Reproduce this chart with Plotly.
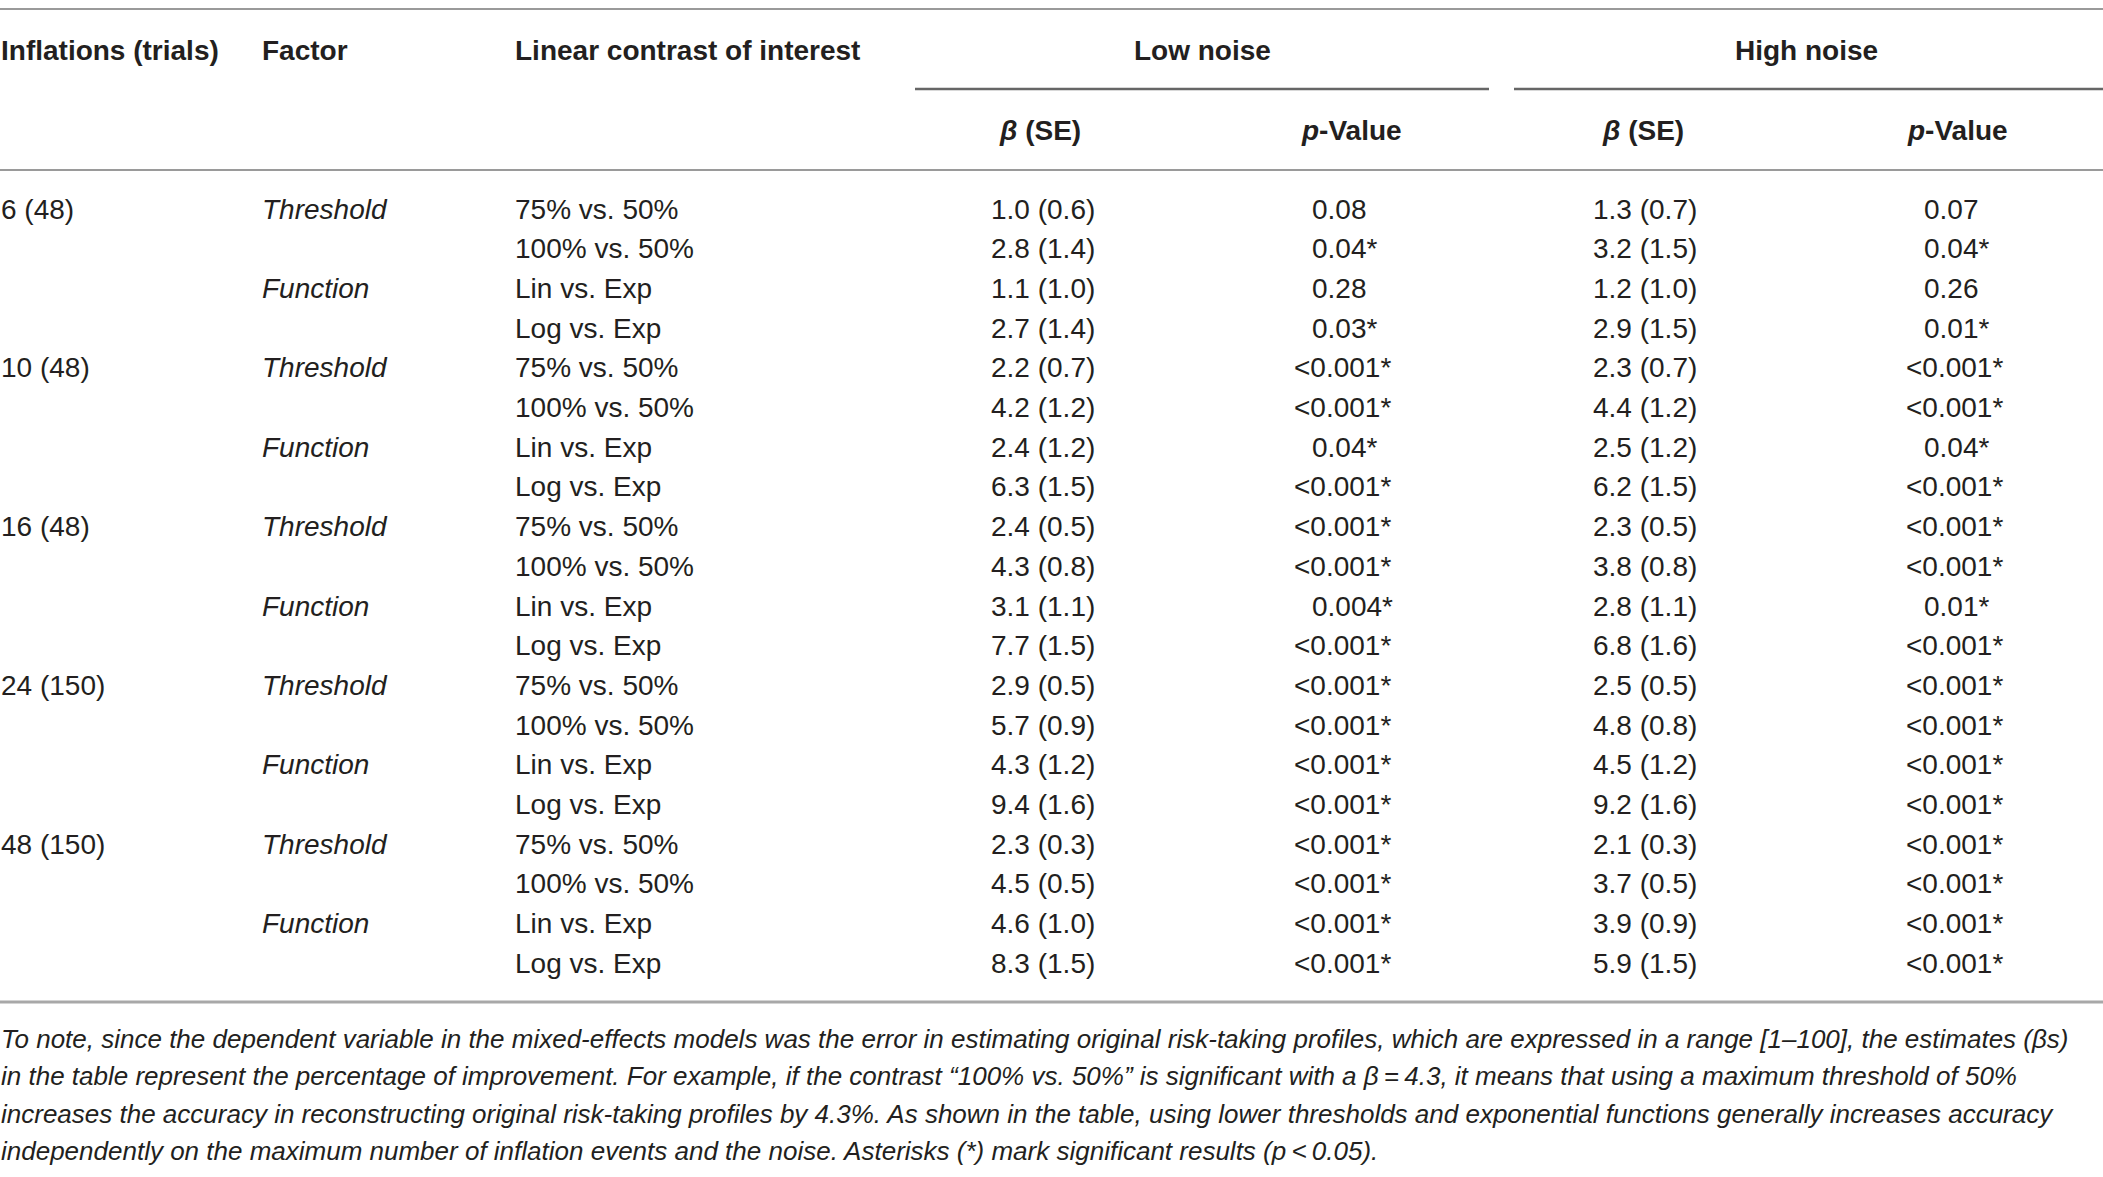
"""Mixed-effects contrasts table: low vs high noise, redrawn with plotly annotations"""
import plotly.graph_objects as go

# table content
inflations = ["6 (48)", "", "", "", "10 (48)", "", "", "", "16 (48)", "", "", "",
              "24 (150)", "", "", "", "48 (150)", "", "", ""]
factors = ["Threshold", "", "Function", ""] * 5
contrasts = ["75% vs. 50%", "100% vs. 50%", "Lin vs. Exp", "Log vs. Exp"] * 5

low_beta = ["1.0 (0.6)", "2.8 (1.4)", "1.1 (1.0)", "2.7 (1.4)",
            "2.2 (0.7)", "4.2 (1.2)", "2.4 (1.2)", "6.3 (1.5)",
            "2.4 (0.5)", "4.3 (0.8)", "3.1 (1.1)", "7.7 (1.5)",
            "2.9 (0.5)", "5.7 (0.9)", "4.3 (1.2)", "9.4 (1.6)",
            "2.3 (0.3)", "4.5 (0.5)", "4.6 (1.0)", "8.3 (1.5)"]
low_p = ["0.08", "0.04*", "0.28", "0.03*",
         "<0.001*", "<0.001*", "0.04*", "<0.001*",
         "<0.001*", "<0.001*", "0.004*", "<0.001*",
         "<0.001*", "<0.001*", "<0.001*", "<0.001*",
         "<0.001*", "<0.001*", "<0.001*", "<0.001*"]
high_beta = ["1.3 (0.7)", "3.2 (1.5)", "1.2 (1.0)", "2.9 (1.5)",
             "2.3 (0.7)", "4.4 (1.2)", "2.5 (1.2)", "6.2 (1.5)",
             "2.3 (0.5)", "3.8 (0.8)", "2.8 (1.1)", "6.8 (1.6)",
             "2.5 (0.5)", "4.8 (0.8)", "4.5 (1.2)", "9.2 (1.6)",
             "2.1 (0.3)", "3.7 (0.5)", "3.9 (0.9)", "5.9 (1.5)"]
high_p = ["0.07", "0.04*", "0.26", "0.01*",
          "<0.001*", "<0.001*", "0.04*", "<0.001*",
          "<0.001*", "<0.001*", "0.01*", "<0.001*",
          "<0.001*", "<0.001*", "<0.001*", "<0.001*",
          "<0.001*", "<0.001*", "<0.001*", "<0.001*"]

footnote_lines = [
    "To note, since the dependent variable in the mixed-effects models was the error in estimating "
    "original risk-taking profiles, which are expressed in a range [1\u2013100], the estimates (\u03b2s)",
    "in the table represent the percentage of improvement. For example, if the contrast \u201c100% vs. 50%\u201d "
    "is significant with a \u03b2\u2009=\u20094.3, it means that using a maximum threshold of 50%",
    "increases the accuracy in reconstructing original risk-taking profiles by 4.3%. As shown in the table, "
    "using lower thresholds and exponential functions generally increases accuracy",
    "independently on the maximum number of inflation events and the noise. Asterisks (*) mark "
    "significant results (p\u2009<\u20090.05).",
]

W, H = 2103, 1177
FONT = "Liberation Sans, Arial, sans-serif"
TXT = "#231f20"
row_y0, row_h = 209, 39.7

fig = go.Figure()
annos = []


def add(x, y, text, anchor="left", size=28, bold=False, italic=False):
    if italic:
        text = "<i>" + text + "</i>"
    if bold:
        text = "<b>" + text + "</b>"
    annos.append(dict(x=x, y=y, xref="x", yref="y", text=text, showarrow=False,
                      xanchor=anchor, yanchor="middle", borderpad=0,
                      font=dict(family=FONT, size=size, color=TXT)))


# headers
add(0, 50, "Inflations (trials)", bold=True)
add(261, 50, "Factor", bold=True)
add(514, 50, "Linear contrast of interest", bold=True)
add(1202, 50, "Low noise", anchor="center", bold=True)
add(1806, 50, "High noise", anchor="center", bold=True)
add(1040, 130, "<i>\u03b2</i> (SE)", anchor="center", bold=True)
add(1351, 130, "<i>p</i>-Value", anchor="center", bold=True)
add(1643, 130, "<i>\u03b2</i> (SE)", anchor="center", bold=True)
add(1957, 130, "<i>p</i>-Value", anchor="center", bold=True)

# body
for i in range(len(contrasts)):
    y = row_y0 + i * row_h
    if inflations[i]:
        add(0, y, inflations[i])
    if factors[i]:
        add(261, y, factors[i], italic=True)
    add(514, y, contrasts[i])
    add(990, y, low_beta[i])
    # p-values line up on the leading zero, "<" hangs to the left
    add(1311 - (18 if low_p[i].startswith("<") else 0), y, low_p[i])
    add(1592, y, high_beta[i])
    add(1923 - (18 if high_p[i].startswith("<") else 0), y, high_p[i])

# footnote
for j, line in enumerate(footnote_lines):
    line = line.replace("(p", "(<i>p</i>")
    add(0, 1039 + j * 37.3, line, size=26, italic=True)

shapes = []
for y0, x0, x1, col, w in [(9, 0, W, "#9a9a9a", 2),
                           (89, 915, 1489, "#666666", 2.5),
                           (89, 1514, W, "#666666", 2.5),
                           (170, 0, W, "#9a9a9a", 2),
                           (1002, 0, W, "#a8a8a8", 3)]:
    shapes.append(dict(type="line", xref="x", yref="y", x0=x0, x1=x1, y0=y0, y1=y0,
                       line=dict(color=col, width=w)))

fig.update_layout(
    width=W,
    height=H,
    margin=dict(l=0, r=0, t=0, b=0),
    plot_bgcolor="white",
    paper_bgcolor="white",
    annotations=annos,
    shapes=shapes,
    showlegend=False,
)
fig.update_xaxes(range=[0, W], visible=False, fixedrange=True)
fig.update_yaxes(range=[H, 0], visible=False, fixedrange=True)

# drop the default page margin so the figure sits at the window corner
fig.write_html("out.html", config={"displayModeBar": False},
               post_script="document.body.style.margin='0';")
